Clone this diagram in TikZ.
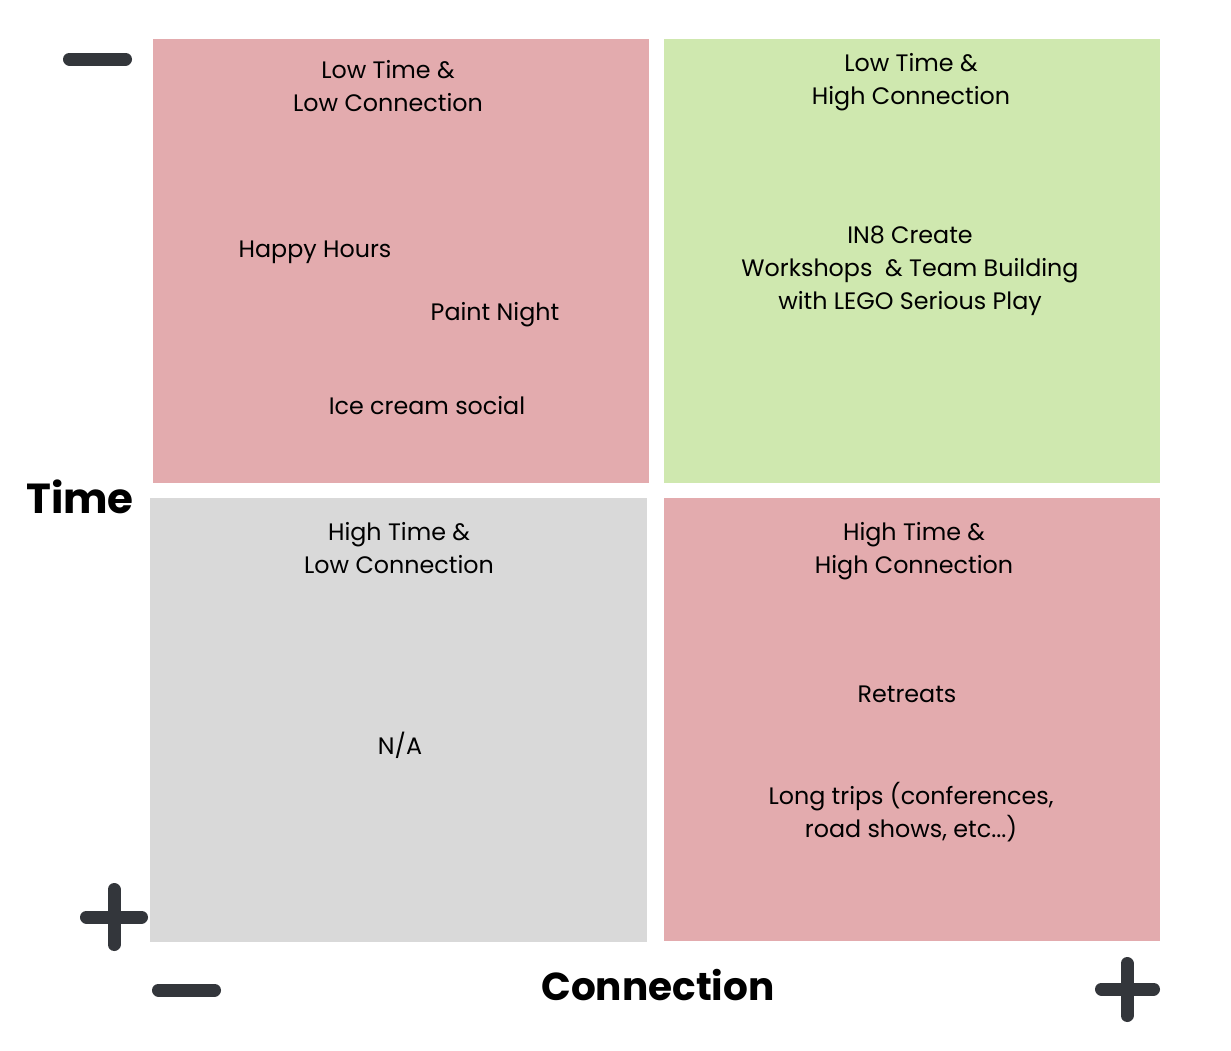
\documentclass[tikz,border=0pt]{standalone}
\usepackage{fontspec}
\setmainfont{Poppins}
\definecolor{qpink}{HTML}{E3ABAE}
\definecolor{qgreen}{HTML}{CFE8AF}
\definecolor{qgray}{HTML}{D9D9D9}
\definecolor{qsign}{HTML}{33363B}
\begin{document}
\begin{tikzpicture}[x=1pt,y=-1pt,
  quad/.style={inner sep=0pt, outer sep=0pt},
  lbl/.style={align=center, inner sep=0pt, font=\fontsize{23.8}{33}\selectfont, text=black},
  axis/.style={inner sep=0pt, font=\fontsize{42}{50}\selectfont\bfseries, text=black},
  sign/.style={draw=qsign, line width=13pt, line cap=round}]
\useasboundingbox (0,0) rectangle (1231,1050);
\fill[white] (0,0) rectangle (1231,1050);
% quadrants
\fill[qpink]  (153,39)  rectangle (649,483);
\fill[qgreen] (664,39)  rectangle (1160,483);
\fill[qgray]  (150,498) rectangle (647,942);
\fill[qpink]  (664,498) rectangle (1160,941);
% quadrant titles
\node[lbl] (tlt) at (388,86)  {Low Time \&\\Low Connection};
\node[lbl] (trt) at (911,82)  {Low Time \&\\High Connection};
\node[lbl] (blt) at (399,548) {High Time \&\\Low Connection};
\node[lbl] (brt) at (914,551) {High Time \&\\High Connection};
% items
\node[lbl] (happy) at (315,252) {Happy Hours};
\node[lbl] (paint) at (495,315) {Paint Night};
\node[lbl] (ice)   at (427,406) {Ice cream social};
\node[lbl] (in8)   at (910,271) {IN8 Create\\Workshops \ \& Team Building\\with LEGO Serious Play};
\node[lbl] (na)    at (400,745) {N/A};
\node[lbl] (retreats) at (907,694) {Retreats};
\node[lbl] (trips) at (911,812) {Long trips (conferences,\\road shows, etc...)};
% axis labels
\node[axis] (time) at (80,497) {Time};
\node[axis, font=\fontsize{39}{46}\selectfont\bfseries] (conn) at (658,985) {Connection};
% signs
\draw[sign] (69.5,59) -- (125.5,59);
\draw[sign] (114,889.5) -- (114,944.5);
\draw[sign] (86.5,917) -- (141.5,917);
\draw[sign] (158.5,990) -- (214.5,990);
\draw[sign] (1127,963.5) -- (1127,1015.5);
\draw[sign] (1101.5,989) -- (1153.5,989);
\end{tikzpicture}
\end{document}
